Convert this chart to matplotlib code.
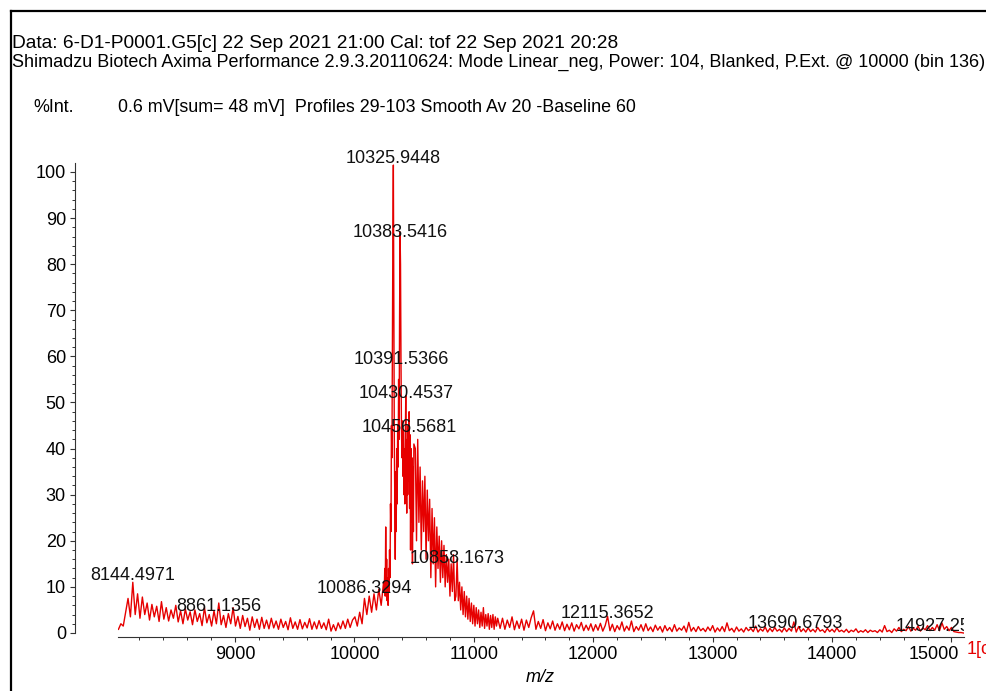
import numpy as np
import matplotlib
matplotlib.use("Agg")
import matplotlib.pyplot as plt
from matplotlib.lines import Line2D
from matplotlib.ticker import MultipleLocator
from matplotlib.transforms import ScaledTranslation

plt.rcParams['font.family'] = ['Liberation Sans', 'DejaVu Sans']

# ---- spectrum (intensity in %Int) ----
# each segment: first m/z, spacing in Da, intensities
seg1_start, seg1_step = 8024, 20
seg1 = [0.8, 2.0, 1.5, 4.5, 7.5, 3.5, 11.0, 4.0, 8.5, 3.2,
        7.8, 4.0, 6.5, 2.8, 6.2, 3.5, 5.8, 2.5, 6.8, 3.0,
        5.5, 2.6, 5.0, 3.2, 6.0, 2.4, 4.8, 2.0, 5.2, 2.8,
        4.6, 1.8, 5.0, 2.5, 4.2, 1.6, 5.5, 2.2, 4.0, 1.5,
        4.8, 2.0, 6.5, 1.8, 3.8, 1.2, 4.2, 2.0, 5.5, 1.5,
        3.6, 1.0, 3.8, 1.4, 3.2, 0.6, 3.5, 1.2, 3.0, 0.8,
        3.4, 1.0, 2.8, 0.9, 3.2, 1.1, 2.6, 0.8, 3.0, 1.2,
        2.5, 0.7, 3.3, 1.0, 2.4, 0.8, 2.9, 0.9, 2.3, 1.1,
        3.1, 0.8, 2.4, 0.9, 2.7, 1.0, 2.2, 0.7, 3.0, 0.4,
        1.8, 0.5, 2.2, 0.9, 2.6, 1.0, 3.0, 1.2, 2.8, 3.5,
        1.5, 4.5, 2.0, 7.5, 4.0, 8.0, 4.5, 8.5, 5.0, 9.5,
        6.0, 11.0]

seg2_start, seg2_step = 10250, 4
seg2 = [9, 14, 8, 23, 10, 16, 7, 12, 6, 14,
        9, 18, 12, 28, 22, 45, 38, 62, 86, 101.5,
        70, 42, 30, 16, 35, 22, 40, 28, 45, 36,
        55, 42, 68, 87, 80, 59, 44, 38, 46, 34,
        44, 30, 40, 28, 42, 51.5, 36, 26, 42, 30,
        45, 33, 48, 27, 43, 18, 40, 24, 38, 15,
        36, 22, 41]

seg3_start, seg3_step = 10510, 10
seg3 = [40, 20, 42, 24, 36, 18, 33, 22, 34, 16,
        31, 20, 29, 12, 27, 15, 25, 10, 23, 14,
        21, 11, 20, 12, 19, 10, 17, 11, 16, 8,
        15, 9, 17, 7, 8, 16, 7, 11, 5, 10,
        4, 9, 3.5, 8, 3, 7.5, 2.5, 6.5, 2, 6,
        1.5, 5.5, 2, 5, 1.2, 4.5, 1.5, 5.5, 1, 4,
        1.5, 4.2, 0.8, 3.8, 1.2, 4, 0.8, 3.5, 1.5, 3.2]

seg4_start, seg4_step = 11220, 20
seg4 = [1.0, 3.2, 0.8, 2.8, 1.2, 3.5, 0.7, 2.6, 1.0, 3.0, 0.6, 2.8, 1.2, 3.3, 4.8,
        0.8, 2.5, 1.0, 2.9, 0.5, 2.2, 0.9, 2.6, 0.6, 2.0, 0.8, 2.4, 0.5, 1.9, 0.7,
        2.2, 0.4, 1.8, 0.9, 2.3, 0.5, 1.7, 0.6, 2.0, 0.4, 1.8, 0.6, 2.1, 0.4, 1.6,
        3.6, 0.5, 1.9, 0.3, 1.6, 0.7, 2.4, 0.4, 1.5, 0.6, 2.6, 0.3, 1.4, 0.6, 1.8,
        0.4, 2.0, 0.5, 1.3, 0.3, 1.7, 0.6, 1.4, 0.2, 1.6, 0.5, 1.2, 0.3, 1.8, 0.4,
        1.1, 0.6, 1.5, 0.2, 2.3, 0.4, 1.2, 0.3, 1.4, 0.5, 1.0, 0.3, 1.3, 0.5, 1.6,
        0.2, 1.1, 0.4, 1.4, 0.3, 2.2, 0.5, 1.0, 0.2, 1.3, 0.4, 0.9, 0.2, 1.2, 0.5,
        1.0, 0.3, 1.5, 0.2, 0.9, 0.4, 1.3, 0.2, 1.0, 0.3, 1.2, 0.4, 0.8, 0.2, 1.1,
        0.3, 1.0, 0.4, 2.4, 0.2, 1.4, 0.3, 0.9, 0.2, 1.1, 0.3, 0.8, 0.2, 1.2, 0.4,
        0.7, 0.1, 1.0, 0.3, 0.8, 0.2, 1.1, 0.3, 0.6, 0.2, 0.8, 0.1, 0.6, 0.3, 0.9,
        0.1, 0.5, 0.2, 0.7, 0.1, 0.6, 0.3, 0.5, 0.1, 0.7, 0.2, 1.6, 0.3, 0.6, 0.1,
        0.9, 0.4, 1.2, 0.3, 0.8, 0.5, 1.4, 0.4, 1.0, 0.6, 1.5, 0.4, 1.1, 0.7, 1.6,
        0.5, 1.2, 0.6, 1.8, 0.5, 2.2, 0.8, 1.4, 0.5, 1.2, 0.3, 0.2, 0.1, 0.1, 0.0]

# labelled peaks: m/z and the height the label sits at
peak_mz = [8144.4971, 8861.1356, 10086.3294, 10325.9448, 10383.5416, 10391.5366,
           10430.4537, 10456.5681, 10858.1673, 12115.3652, 13690.6793, 14927.2541]
peak_int = [11.5, 4.8, 8.7, 102.0, 85.9, 58.4, 51.0, 43.6, 15.2, 3.3, 1.1, 0.4]

header1 = "Data: 6-D1-P0001.G5[c] 22 Sep 2021 21:00 Cal: tof 22 Sep 2021 20:28"
header2 = ("Shimadzu Biotech Axima Performance 2.9.3.20110624: Mode Linear_neg, "
           "Power: 104, Blanked, P.Ext. @ 10000 (bin 136)")
header3 = "0.6 mV[sum= 48 mV]  Profiles 29-103 Smooth Av 20 -Baseline 60"

segments = [(seg1_start, seg1_step, seg1), (seg2_start, seg2_step, seg2),
            (seg3_start, seg3_step, seg3), (seg4_start, seg4_step, seg4)]
mz = np.concatenate([s + d * np.arange(len(v)) for s, d, v in segments])
inten = np.concatenate([np.array(v, float) for s, d, v in segments])

W, H = 987, 691
RED = '#e60000'


def fx(px):
    return px / W


def fy(py):
    return 1 - py / H


fig = plt.figure(figsize=(W / 100, H / 100), dpi=100)
ax = fig.add_axes([fx(118), fy(637), (964 - 118) / W, (637 - 163) / H])

ax.plot(mz, inten, color=RED, lw=1.0, zorder=2)
ax.set_xlim(8020, 15105)
ax.set_ylim(-0.87, 101.95)

for s in ['top', 'right']:
    ax.spines[s].set_visible(False)
ax.spines['left'].set_position(('outward', 31))
ax.spines['left'].set_bounds(0, 101.95)
for s in ['left', 'bottom']:
    ax.spines[s].set_linewidth(0.8)
    ax.spines[s].set_color('#333333')

ax.xaxis.set_major_locator(MultipleLocator(1000))
ax.xaxis.set_minor_locator(MultipleLocator(200))
ax.yaxis.set_major_locator(MultipleLocator(10))
ax.yaxis.set_minor_locator(MultipleLocator(2))
ax.set_yticks(np.arange(0, 101, 10))
ax.tick_params(which='major', direction='out', length=3.5, width=0.8,
               color='#333333', labelsize=13, pad=3)
ax.tick_params(which='minor', direction='out', length=2, width=0.7, color='#333333')

for m, h in zip(peak_mz, peak_int):
    ax.text(m, h, f"{m:.4f}", ha='center', va='baseline', fontsize=13,
            color='#111111', zorder=3, clip_on=(m > 14000))

fig.text(fx(540), fy(677), "m/z", style='italic', ha='center', va='center', fontsize=13)
fig.text(fx(967), fy(650), "1[c", color=RED, ha='left', va='center', fontsize=13)

# the last x label is pulled in so it ends at the axis end
fig.canvas.draw()
for lab in ax.get_xticklabels():
    if lab.get_text() in ('15000', '15\u2009000'):
        lab.set_transform(lab.get_transform() + ScaledTranslation(-0.18, 0, fig.dpi_scale_trans))

# header block
r = fig.canvas.get_renderer()


def fit(t, width):
    w = t.get_window_extent(r).width
    t.set_fontsize(t.get_fontsize() * width / w)


t1 = fig.text(fx(12), fy(44), header1, ha='left', va='center', fontsize=11)
t2 = fig.text(fx(12), fy(62), header2, ha='left', va='center', fontsize=11)
t4 = fig.text(fx(118), fy(107), header3, ha='left', va='center', fontsize=11)
fit(t1, 605)
fit(t2, 973)
fit(t4, 518)
fig.text(fx(33), fy(107), "%Int.", ha='left', va='center', fontsize=t4.get_fontsize())

# frame of the report page
fig.add_artist(Line2D([fx(11), fx(11)], [fy(11), 0], color='black', lw=1.6,
                      transform=fig.transFigure))
fig.add_artist(Line2D([fx(11), 1], [fy(11), fy(11)], color='black', lw=1.6,
                      transform=fig.transFigure))

fig.savefig("out.png", dpi=100)
